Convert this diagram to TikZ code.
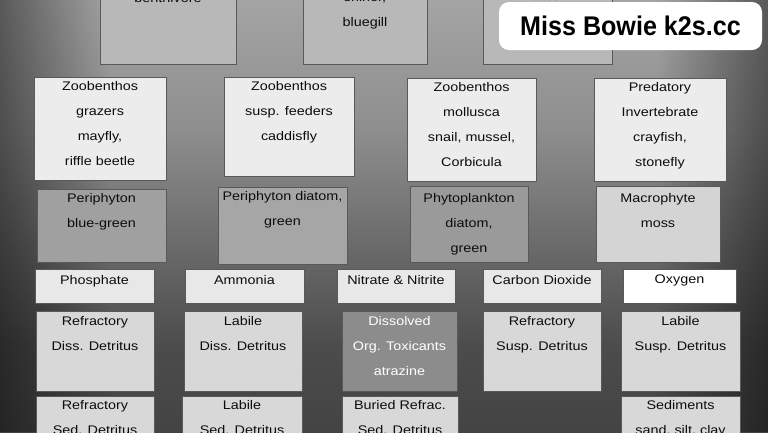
\documentclass[tikz,border=0pt]{standalone}
\usepackage{fontspec}
\setmainfont{Liberation Sans}
\newfontfamily\boxfam[FakeStretch=1.15]{Liberation Sans}
\newfontfamily\wmfam[FakeStretch=0.93]{Liberation Sans Bold}
\usetikzlibrary{fadings}
\definecolor{bgtop}{HTML}{C8C8C8}
\definecolor{bgmid}{HTML}{8E8E8E}
\definecolor{bglow}{HTML}{4C4C4C}
\definecolor{bgbot}{HTML}{2E2E2E}
\definecolor{topc}{HTML}{B8B8B8}
\definecolor{zooc}{HTML}{ECECEC}
\definecolor{peric}{HTML}{A0A0A0}
\definecolor{perid}{HTML}{A6A6A6}
\definecolor{phyc}{HTML}{9A9A9A}
\definecolor{macc}{HTML}{D4D4D4}
\definecolor{nutc}{HTML}{E8E8E8}
\definecolor{detc}{HTML}{D8D8D8}
\definecolor{toxc}{HTML}{8C8C8C}
\pgfdeclareverticalshading{bgshade}{100bp}{color(0bp)=(bgbot); color(35bp)=(bglow); color(60bp)=(bgmid); color(100bp)=(bgtop)}
\tikzfading[name=fadeleft, left color=transparent!0, right color=transparent!100]
\tikzfading[name=faderight, left color=transparent!100, right color=transparent!0]
\tikzset{
  boxs/.style={draw=black!65, line width=0.8pt, inner sep=0pt, outer sep=0pt},
  boxtxt/.style={anchor=north, inner sep=0pt, align=center, text=black!95,
    font={\boxfam\fontsize{12.5}{25}\selectfont}},
  wmark/.style={fill=white, rounded corners=10pt, inner sep=0pt, outer sep=0pt},
}
\newcommand\mybox[8]{%
  \node[boxs, fill=#6, minimum width={#4pt-#2pt}, minimum height={#5pt-#3pt}, anchor=north west] (#1) at (#2,#3) {};
  \node[boxtxt, yshift=-#7pt] (#1t) at (#1.north) {#8};
}
\begin{document}
\begin{tikzpicture}[x=1pt, y=-1pt]
\useasboundingbox (0,0) rectangle (768,432);
\fill[shading=bgshade] (0,0) rectangle (768,432);
\fill[black, path fading=fadeleft, fill opacity=0.45] (0,0) rectangle (110,432);
\fill[black, path fading=faderight, fill opacity=0.45] (658,0) rectangle (768,432);
% top row (cut by the top edge)
\mybox{fa}{100}{-30}{236}{64}{topc}{0}{}
\mybox{fb}{303}{-30}{427}{64}{topc}{0}{}
\mybox{fc}{483}{-30}{612}{64}{topc}{0}{}
\node[boxtxt, anchor=base] (fat) at (168,2) {benthivore};
\node[boxtxt, anchor=base] (fbt) at (365,1) {shiner,};
\node[boxtxt, anchor=base] (fbu) at (365,26) {bluegill};
\node[boxtxt, anchor=base] (fct) at (545,0) {bass};
% zoobenthos
\mybox{za}{34}{77}{166}{180}{zooc}{4}{Zoobenthos\\grazers\\mayfly,\\riffle beetle}
\mybox{zb}{224}{77}{354}{176}{zooc}{4}{Zoobenthos\\susp. feeders\\caddisfly}
\mybox{zc}{407}{78}{536}{181}{zooc}{4}{Zoobenthos\\mollusca\\snail, mussel,\\Corbicula}
\mybox{zd}{594}{78}{726}{181}{zooc}{4}{Predatory\\Invertebrate\\crayfish,\\stonefly}
% plants
\mybox{pa}{37}{189}{166}{262}{peric}{4}{Periphyton\\blue-green}
\mybox{pb}{218}{187}{347}{264}{perid}{4}{Periphyton diatom,\\green}
\mybox{pc}{410}{186}{528}{262}{phyc}{7}{Phytoplankton\\diatom,\\green}
\mybox{pd}{596}{186}{720}{262}{macc}{7}{Macrophyte\\moss}
% nutrients
\mybox{na}{35}{269}{154}{303}{nutc}{6}{Phosphate}
\mybox{nb}{185}{269}{304}{303}{nutc}{6}{Ammonia}
\mybox{nc}{337}{269}{455}{303}{nutc}{6}{Nitrate \& Nitrite}
\mybox{nd}{483}{269}{601}{303}{nutc}{6}{Carbon Dioxide}
\mybox{ne}{623}{269}{736}{303}{white}{6}{Oxygen}
% detritus
\mybox{da}{36}{311}{154}{391}{detc}{5}{Refractory\\Diss. Detritus}
\mybox{db}{184}{311}{302}{391}{detc}{5}{Labile\\Diss. Detritus}
\mybox{dc}{342}{311}{457}{391}{toxc}{5}{\color{white}Dissolved\\\color{white}Org. Toxicants\\\color{white}atrazine}
\mybox{dd}{483}{311}{601}{391}{detc}{5}{Refractory\\Susp. Detritus}
\mybox{de}{621}{311}{740}{391}{detc}{5}{Labile\\Susp. Detritus}
% sediments
\mybox{sa}{36}{396}{154}{445}{detc}{4}{Refractory\\Sed. Detritus}
\mybox{sb}{182}{396}{302}{445}{detc}{4}{Labile\\Sed. Detritus}
\mybox{sc}{342}{396}{458}{445}{detc}{4}{Buried Refrac.\\Sed. Detritus}
\mybox{sd}{621}{396}{740}{445}{detc}{4}{Sediments\\sand, silt, clay}
% watermark
\node[wmark, minimum width=263pt, minimum height=48pt, anchor=north west] (wm) at (499,2) {};
\node[font={\wmfam\fontsize{27}{30}\selectfont}, text=black, inner sep=0pt] (wmt) at (wm.center) {Miss Bowie k2s.cc};
\end{tikzpicture}
\end{document}
